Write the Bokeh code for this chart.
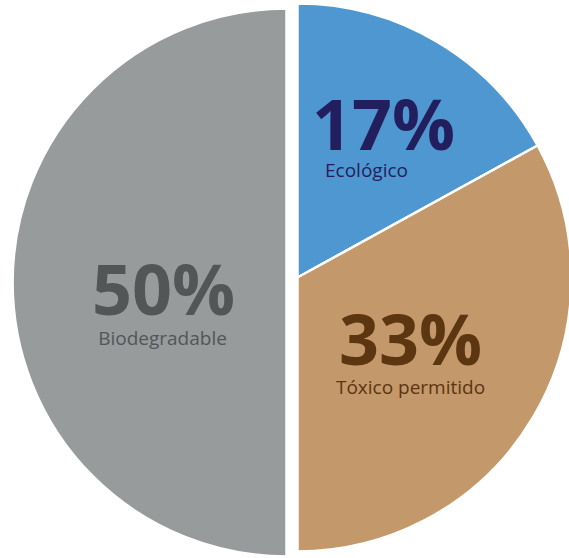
import math
from bokeh.plotting import figure
from bokeh.models import Range1d, ColumnDataSource
from bokeh.core.properties import value
from bokeh.embed import file_html
from bokeh.resources import INLINE

# ---- data ----
categories = ["Ecológico", "Tóxico permitido", "Biodegradable"]
shares = [17, 33, 50]
pct_labels = ["17%", "33%", "50%"]

# ---- styles / layout ----
colors = ["#4F97D1", "#C3986A", "#979B9C"]
text_colors = ["#231F5E", "#5C3511", "#525657"]
W, H = 569, 558
R = 274
# slice centres (pixel-like coords, y measured downward from top)
centres = [(297, 277), (297, 277), (286, 282)]
# label offsets from slice centre (dx, dy downward) for percent and name
pct_off = [(86, -155), (113, 60), (-123, 5)]
name_off = [(69, -108), (113, 109), (-124, 55)]

p = figure(width=W, height=H, x_range=Range1d(0, W), y_range=Range1d(0, H),
           output_backend="svg", toolbar_location=None, min_border=0,
           x_axis_type=None, y_axis_type=None)
p.grid.visible = False
p.outline_line_color = None
p.background_fill_color = "white"
p.border_fill_color = "white"

total = float(sum(shares))
cum = 0.0
xs, ys, starts, ends = [], [], [], []
for i, s in enumerate(shares):
    c0 = cum / total
    cum += s
    c1 = cum / total
    cx, cy = centres[i]
    xs.append(cx)
    ys.append(H - cy)
    starts.append(math.pi / 2 - 2 * math.pi * c1)
    ends.append(math.pi / 2 - 2 * math.pi * c0)

src = ColumnDataSource(dict(x=xs, y=ys, start=starts, end=ends, color=colors,
                            cat=categories, share=shares))
p.wedge(x="x", y="y", radius=R, start_angle="start", end_angle="end",
        direction="anticlock", fill_color="color", line_color="white",
        line_width=2.5, source=src)

px, py, nx, ny = [], [], [], []
for i in range(len(shares)):
    cx, cy = centres[i]
    px.append(cx + pct_off[i][0]); py.append(H - (cy + pct_off[i][1]))
    nx.append(cx + name_off[i][0]); ny.append(H - (cy + name_off[i][1]))

lsrc = ColumnDataSource(dict(px=px, py=py, nx=nx, ny=ny, pct=pct_labels,
                             name=categories, tc=text_colors))
p.text(x="px", y="py", text="pct", source=lsrc, text_color="tc",
       text_font=value("Open Sans"), text_font_style="bold",
       text_font_size="70px", text_align="center", text_baseline="alphabetic")
p.text(x="nx", y="ny", text="name", source=lsrc, text_color="tc",
       text_font=value("Open Sans"), text_font_size="19px",
       text_align="center", text_baseline="alphabetic")

open("out.html", "w").write(file_html(p, INLINE))
